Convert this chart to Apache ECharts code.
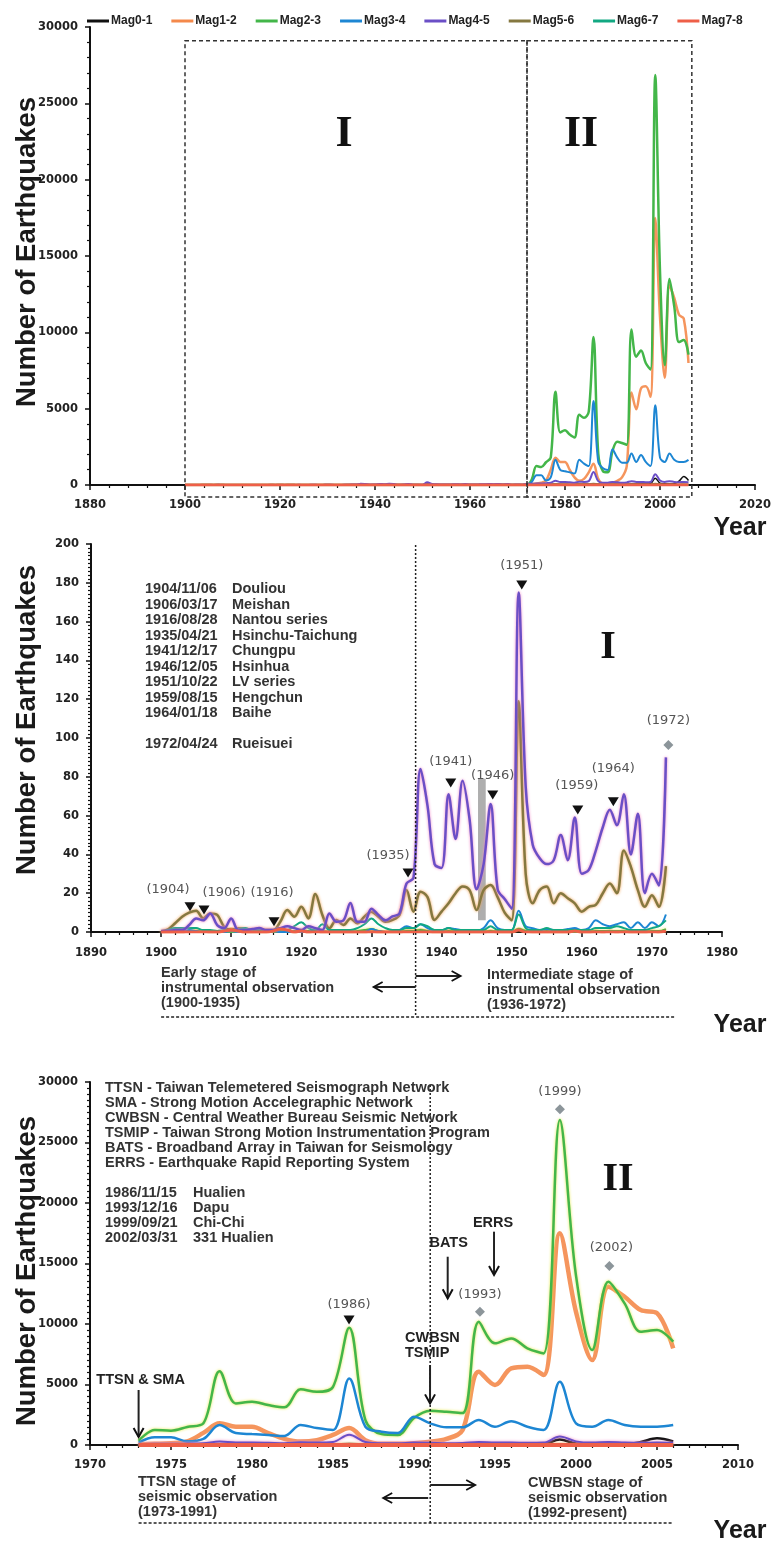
<!DOCTYPE html>
<html><head><meta charset="utf-8">
<script src="https://cdn.jsdelivr.net/npm/echarts@6/dist/echarts.min.js"></script>
<style>html,body{margin:0;padding:0;background:#fff}#c{width:771px;height:1555px}</style>
</head><body><div id="c"></div>
<script>
// ---------------- DATA ----------------
const magNames = ['Mag0-1','Mag1-2','Mag2-3','Mag3-4','Mag4-5','Mag5-6','Mag6-7','Mag7-8'];
const yearsEarly = []; for (let y = 1900; y <= 1972; y++) yearsEarly.push(y);
const yearsLate = []; for (let y = 1973; y <= 2006; y++) yearsLate.push(y);

// 1900-1972 (annual counts)
const mag01Early = [0,0,0,0,0,0,0,0,0,0, 0,0,0,0,0,0,0,0,0,0, 0,0,0,0,0,0,0,0,0,0, 0,0,0,0,0,0,0,0,0,0, 0,0,0,0,0,0,0,0,0,0, 0,0,0,0,0,0,0,0,0,0, 0,0,0,0,0,0,0,0,0,0, 0,0,0];
const mag12Early = [0,0,0,0,0.5,0.5,0.5,0,0,0.5, 1.5,0.5,0,0,0,0,0.5,1.5,0.5,0, 0.5,0,0.5,0,0,0,0,0,0,0, 0.5,0,0,0,0,0.5,0.5,1,0.5,0, 0,0.5,0,0,0,0,0,0.5,0,0, 0,1.5,0.5,0,0,0,0,0,0,0.5, 0,0,0.5,0,0.5,0,0.5,0,0,0, 0.5,0,1];
const mag23Early = [0,0,0,0.5,0.5,0.5,0,0,0,0, 0,0,0.5,0,0,0,0,0.5,0,0.5, 1,0.5,0,0.5,0,0,0,0,0.5,1, 1.5,0.5,0,0,0,0.5,0.5,1,0.5,0, 0,0.5,0,0,0,0,0,0.5,0,0, 0,1.5,0.5,0,0,0.5,0,0,0,0, 0,0,0.5,0.5,0.5,0.5,0.5,0,0,0, 0.5,0.5,1.5];
const mag34Early = [0,0,0,0.5,1,0.5,0,0,0,0, 0.5,0,0,0,0,0,0.5,0,0,0, 0,0,1,0,0,0,0,0,0,0, 1.5,0.5,0,0,1,3,2,4,2,1, 1,2,1.5,1,1,0.5,2,6,2,1, 1,11,3,2,1,1.5,1,1,1.5,2, 1,2,6,4,3,4,5,2,5,2, 5,3,9];
const mag45Early = [0.5,0.5,1,1,3.6,7,6,9.6,3.6,2, 7,1,1,1.5,2,1,1,2,3,2, 1,3,2,1,9.6,5.3,6,15,5.3,5.3, 12,8.8,6,8,9.6,25,28,84,65,35, 33,71,48,78,58,22,35,66,22,17, 12,175,75,45,38,35,37,50,37,59, 30,32,42,54,63,55,71,40,61,20, 30,24,90];
const mag56Early = [0.3,1.4,4.5,7.9,10,11,7,9.6,8.8,2.7, 1,1.9,1.4,1,1.4,1,1,5.3,11.3,7.9, 13,7,19.6,8.8,1.9,6.2,3.6,7,4.5,7.9, 10.5,7.9,5.3,6.2,8.8,21.6,10.5,20.8,18,6.2, 10.5,14.8,20,23.5,21.6,11.3,21.6,24.2,18,10, 6,119,30,14.8,21.6,23.5,14.8,20,17.4,14.8, 10.5,13,14,20,25,20,42,33.6,21.6,13, 19,13,34];
const mag67Early = [0,1,2,2,2,2,1,1,0.5,1, 1,1.5,2,1,1,0.5,1,2,1,3, 5,2,1,4,1,1,1,1,2,4, 7,4,2,1,1,2,2,4,3,1, 1,2,1,1,1,1,1,3,1,1, 1,9,2,1,1,2,1,1,1,1, 1,1,2,2,2,3,2,1,1,1, 2,3,6];
const mag78Early = [0,0,0,0,0,0,0,0,0,0.5, 1,0.5,0,0,0,0,0.5,1.5,1,0, 0.5,0,0,0,0,0,0,0,0,0, 0,0,0,0,0,0,0,0,0,0, 0,0,0,0,0,0,0,0,0,0, 0,1,0,0,0,0,0,0,0,0.5, 0,0,0,0,0,0,0,0,0,0, 0,0,0.5];

// 1973-2006 (annual counts)
const mag01Late = [30,30,40,40,40,50,40,40,40,40, 50,50,50,80,50,40,40,50,50,50, 50,60,60,60,60,80,450,120,80,80, 80,250,550,300];
const mag12Late = [50,100,150,300,1000,1790,1510,1500,990,500, 280,400,830,1400,400,100,100,150,270,500, 1240,6060,4960,6330,6470,5780,17490,11000,7020,13080, 12250,11150,10900,7990];
const mag23Late = [350,1240,1180,1490,1800,6100,3440,3580,3300,3110, 4600,4400,4800,9700,2065,900,830,2230,2830,2750, 2640,10180,8400,8810,7990,7570,26850,14000,7850,13500, 11700,9360,9500,8540];
const mag34Late = [200,640,640,300,500,1650,990,900,830,750, 1650,1400,1240,5500,1510,1100,990,2340,1790,1460, 1460,2065,1510,1961,1510,1240,5230,1790,1510,2065, 1650,1510,1510,1650];
const mag45Late = [80,100,100,120,150,280,200,200,180,150, 220,200,250,850,250,150,150,200,180,150, 170,250,200,200,180,200,700,300,200,250, 200,180,200,180];
const mag56Late = [40,45,40,45,50,60,50,45,40,40, 45,45,50,90,45,40,40,45,40,40, 40,50,45,40,40,40,80,50,40,45, 40,40,45,40];
const mag67Late = [3,2,2,2,3,4,3,2,2,2, 3,2,3,5,3,2,2,2,2,2, 2,4,3,2,2,2,6,3,2,3, 2,2,3,2];
const mag78Late = [0,0,0,0,0,1,0,0,0,0, 0,0,0,1,0,0,0,0,0,0, 0,0,0,0,0,0,1,0,0,0, 0,0,0,0];

// axis ticks
const xTicks1 = {min: 1880, max: 2020, interval: 20};
const xTicks2 = {min: 1890, max: 1980, interval: 10};
const xTicks3 = {min: 1970, max: 2010, interval: 5};
const yTicks1 = {min: 0, max: 30000, interval: 5000};
const yTicks2 = {min: 0, max: 200, interval: 20};
const yTicks3 = {min: 0, max: 30000, interval: 5000};

// annotations (data coordinates)
const events2 = [
  ['(1904)', 1904.12, 13.0, 'tri', -22, -11],
  ['(1906)', 1906.12, 11.3, 'tri', 20, -11],
  ['(1916)', 1916.1, 5.3, 'tri', -2, -23],
  ['(1935)', 1935.22, 30.4, 'tri', -20, -11],
  ['(1941)', 1941.31, 76.8, 'tri', 0, -15],
  ['(1946)', 1947.3, 70.6, 'tri', 0, -13],
  ['(1951)', 1951.44, 178.9, 'tri', 0, -13],
  ['(1959)', 1959.43, 62.9, 'tri', -1, -18],
  ['(1964)', 1964.5, 67.2, 'tri', 0, -27],
  ['(1972)', 1972.35, 96.4, 'dia', 0, -18]
];
const events3 = [
  ['(1986)', 1985.99, 10330, 'tri', 0, -15],
  ['(1993)', 1994.07, 11020, 'dia', 0, -17],
  ['(1999)', 1999.01, 27740, 'dia', 0, -18],
  ['(2002)', 2002.06, 14790, 'dia', 2, -18]
];
const notes2Dates = ['1904/11/06','1906/03/17','1916/08/28','1935/04/21','1941/12/17','1946/12/05','1951/10/22','1959/08/15','1964/01/18','','1972/04/24'];
const notes2Names = ['Douliou','Meishan','Nantou series','Hsinchu-Taichung','Chungpu','Hsinhua','LV series','Hengchun','Baihe','','Rueisuei'];
const notes3Nets = ['TTSN - Taiwan Telemetered Seismograph Network','SMA - Strong Motion Accelegraphic Network','CWBSN - Central Weather Bureau Seismic Network','TSMIP - Taiwan Strong Motion Instrumentation Program','BATS - Broadband Array in Taiwan for Seismology','ERRS - Earthquake Rapid Reporting System'];
const notes3Dates = ['1986/11/15','1993/12/16','1999/09/21','2002/03/31'];
const notes3Names = ['Hualien','Dapu','Chi-Chi','331 Hualien'];

// ---------------- CHART ----------------
const early = [mag01Early, mag12Early, mag23Early, mag34Early, mag45Early, mag56Early, mag67Early, mag78Early];
const late = [mag01Late, mag12Late, mag23Late, mag34Late, mag45Late, mag56Late, mag67Late, mag78Late];
const colors = ['#111111','#F4894B','#43B649','#1D86D3','#6B4FC6','#857840','#12A882','#EE5F48'];
const halos = [null, null, '#e6e84a', null, '#f08ac8', '#f0a050', null, null];
const widths = [[1.5,2.5,2.5,2,2,2,2,3],[2,3,2,2,2.5,2.5,2,3],[2.5,4.5,2.5,2.5,2,2,2,4]];
const zs = [2,2,3,3,4,3,3,5];

function pairs(xs, vs) { return xs.map((x, i) => [x, vs[i]]); }

const series = [];
for (let p = 0; p < 3; p++) {
  for (let k = 0; k < 8; k++) {
    let data;
    if (p === 0) data = pairs(yearsEarly.concat(yearsLate), early[k].concat(late[k]));
    else if (p === 1) data = pairs(yearsEarly, early[k]);
    else data = pairs(yearsLate, late[k]);
    const ls = {color: colors[k], width: widths[p][k]};
    if (k === 1) ls.opacity = 0.9;
    if (halos[k] && p > 0) { ls.shadowColor = halos[k]; ls.shadowBlur = 3; }
    const s = {
      name: magNames[k], type: 'line', xAxisIndex: p, yAxisIndex: p, data,
      symbol: 'none', showSymbol: false, smooth: 0.35, lineStyle: ls,
      itemStyle: {color: colors[k]}, z: zs[k], animation: false
    };
    if (p === 1 && k === 4) {
      s.markArea = {silent: true, itemStyle: {color: 'rgba(140,140,140,0.7)'},
        data: [[{coord: [1945.2, 6]}, {coord: [1946.3, 79]}]]};
    }
    series.push(s);
  }
}

const tickFont = {fontFamily: '"DejaVu Sans", sans-serif', fontWeight: 'bold', fontSize: 11.5, color: '#222'};
function axisCfg(dir, gi, t, minorSplit, margin) {
  return Object.assign({
    type: 'value', gridIndex: gi,
    axisLine: {show: true, onZero: false, lineStyle: {color: '#111', width: 2}},
    axisTick: {show: true, length: 5, lineStyle: {color: '#111', width: 1.5}},
    minorTick: {show: true, splitNumber: minorSplit, length: 3, lineStyle: {color: '#111', width: 1.2}},
    splitLine: {show: false},
    axisLabel: Object.assign({}, tickFont, {margin, formatter: v => String(v)})
  }, t);
}

const option = {
  backgroundColor: '#fff',
  animation: false,
  legend: {
    data: magNames, left: 82, top: 10, icon: 'rect', itemWidth: 22, itemHeight: 3, itemGap: 19,
    selectedMode: false,
    textStyle: {fontFamily: '"Liberation Sans", Arial, sans-serif', fontWeight: 'bold', fontSize: 12, color: '#222', padding: [0,0,0,-3]}
  },
  grid: [
    {left: 90, top: 27, width: 665, height: 458, containLabel: false, outerBoundsMode: 'none'},
    {left: 91, top: 544, width: 631, height: 388, containLabel: false, outerBoundsMode: 'none'},
    {left: 90, top: 1082, width: 648, height: 363, containLabel: false, outerBoundsMode: 'none'}
  ],
  xAxis: [
    axisCfg('x', 0, xTicks1, 5, 14),
    axisCfg('x', 1, xTicks2, 5, 15),
    axisCfg('x', 2, xTicks3, 5, 14)
  ],
  yAxis: [
    axisCfg('y', 0, yTicks1, 5, 12),
    axisCfg('y', 1, yTicks2, 10, 12),
    axisCfg('y', 2, yTicks3, 10, 12)
  ],
  series
};

const chart = echarts.init(document.getElementById('c'), null, {renderer: 'canvas'});
chart.setOption(option);

// ---------------- ANNOTATIONS ----------------
const FB = 'bold 14.5px "Liberation Sans", Arial, sans-serif';
const INK = '#2a2a2a';
function txt(x, y, text, font, fill, align, extra) {
  return Object.assign({type: 'text', x, y, z: 50, silent: true,
    style: {text, font, fill: fill || INK, textAlign: align || 'left', textVerticalAlign: 'middle', align: align || 'left', verticalAlign: 'middle'}}, extra || {});
}
function line(x1, y1, x2, y2, dash, w) {
  return {type: 'line', z: 40, silent: true, shape: {x1, y1, x2, y2},
    style: {stroke: '#222', lineWidth: w || 1.5, lineDash: dash || null}};
}
function arrowDown(x, y1, y2) {
  return [line(x, y1, x, y2, null, 2),
    {type: 'polyline', z: 40, silent: true, shape: {points: [[x - 5, y2 - 9], [x, y2], [x + 5, y2 - 9]]}, style: {stroke: '#111', lineWidth: 2, fill: null}}];
}
function arrowH(x1, x2, y) {
  const d = x2 > x1 ? -1 : 1;
  return [line(x1, y, x2, y, null, 1.8),
    {type: 'polyline', z: 40, silent: true, shape: {points: [[x2 + d * 9, y - 5], [x2, y], [x2 + d * 9, y + 5]]}, style: {stroke: '#111', lineWidth: 1.8, fill: null}}];
}
function marker(p, kind) {
  if (kind === 'tri') {
    return {type: 'polygon', z: 45, silent: true, shape: {points: [[p[0] - 5.5, p[1] - 4.5], [p[0] + 5.5, p[1] - 4.5], [p[0], p[1] + 4.5]]}, style: {fill: '#111'}};
  }
  return {type: 'polygon', z: 45, silent: true, shape: {points: [[p[0], p[1] - 5], [p[0] + 5, p[1]], [p[0], p[1] + 5], [p[0] - 5, p[1]]]}, style: {fill: '#8c959a'}};
}
function P(gi, x, y) { return chart.convertToPixel({gridIndex: gi}, [x, y]); }

const g = [];
const yLabelFont = 'bold 27.5px "Liberation Sans", Arial, sans-serif';
const yearFont = 'bold 25px "Liberation Sans", Arial, sans-serif';
const romanFont1 = 'bold 44px "Liberation Serif", "Times New Roman", serif';
const romanFont2 = 'bold 40px "Liberation Serif", "Times New Roman", serif';
const evFont = '13px "DejaVu Sans", sans-serif';

// y axis titles and Year labels
[252, 720, 1271].forEach(cy => g.push(txt(27, cy, 'Number of Earthquakes', yLabelFont, '#1a1a1a', 'center', {rotation: Math.PI / 2})));
[528, 1025, 1531].forEach(cy => g.push(txt(740, cy, 'Year', yearFont, '#1a1a1a', 'center')));

// Panel 1 dashed boxes
{
  const a = P(0, 1900, 29100), b = P(0, 1972, 0), c = P(0, 2006.7, 0);
  const bot = b[1] + 12;
  g.push({type: 'rect', z: 30, silent: true, shape: {x: a[0], y: a[1], width: b[0] - a[0], height: bot - a[1]}, style: {fill: null, stroke: '#333', lineWidth: 1.5, lineDash: [4, 3]}});
  g.push({type: 'rect', z: 30, silent: true, shape: {x: b[0], y: a[1], width: c[0] - b[0], height: bot - a[1]}, style: {fill: null, stroke: '#333', lineWidth: 1.5, lineDash: [4, 3]}});
  g.push(txt(344, 135, 'I', romanFont1, '#111', 'center'));
  g.push(txt(581, 135, 'II', romanFont1, '#111', 'center'));
}

// Panel 2
{
  const top = P(1, 1936.3, 200), base = P(1, 1936.3, 0);
  const sx = top[0];
  g.push(line(sx, top[1] + 1, sx, base[1] + 83, [2, 2], 1.5));
  const l = P(1, 1900, 0), r = P(1, 1973.3, 0);
  g.push(line(l[0], base[1] + 85, r[0], base[1] + 85, [3, 2], 1.5));
  g.push(...arrowH(sx, sx - 42, base[1] + 55));
  g.push(...arrowH(sx, sx + 45, base[1] + 44));
  ['Early stage of', 'instrumental observation', '(1900-1935)'].forEach((t, i) => g.push(txt(161, 973 + i * 15, t, FB, '#333')));
  ['Intermediate stage of', 'instrumental observation', '(1936-1972)'].forEach((t, i) => g.push(txt(487, 975 + i * 15, t, FB, '#333')));
  notes2Dates.forEach((d, i) => { if (d) { g.push(txt(145, 589.3 + i * 15.47, d, FB, '#333')); g.push(txt(232, 589.3 + i * 15.47, notes2Names[i], FB, '#333')); } });
  g.push(txt(608, 648, 'I', romanFont2, '#111', 'center'));
  events2.forEach(e => {
    const p = P(1, e[1], e[2]);
    g.push(marker(p, e[3]));
    g.push(txt(p[0] + e[4], p[1] + e[5] - 6, e[0], evFont, '#555', 'center'));
  });
}

// Panel 3
{
  const top = P(2, 1991.0, 30000), base = P(2, 1991.0, 0);
  const sx = top[0];
  g.push(line(sx, top[1] + 3, sx, base[1] + 80, [2, 2], 1.5));
  const l = P(2, 1973, 0), r = P(2, 2006, 0);
  g.push(line(l[0], base[1] + 78, r[0], base[1] + 78, [3, 2], 1.5));
  g.push(...arrowH(sx, sx + 45, base[1] + 40));
  g.push(...arrowH(sx - 2, sx - 47, base[1] + 53));
  ['TTSN stage of', 'seismic observation', '(1973-1991)'].forEach((t, i) => g.push(txt(138, 1482 + i * 15, t, FB, '#333')));
  ['CWBSN stage of', 'seismic observation', '(1992-present)'].forEach((t, i) => g.push(txt(528, 1483 + i * 15, t, FB, '#333')));
  notes3Nets.forEach((t, i) => g.push(txt(105, 1088.3 + i * 15, t, FB, '#333')));
  notes3Dates.forEach((d, i) => { g.push(txt(105, 1193.3 + i * 15, d, FB, '#333')); g.push(txt(193, 1193.3 + i * 15, notes3Names[i], FB, '#333')); });
  g.push(txt(618, 1180, 'II', romanFont2, '#111', 'center'));
  // instrument arrows
  const a1 = P(2, 1973, 4545), a1e = P(2, 1973, 660);
  g.push(...arrowDown(a1[0], a1[1], a1e[1]));
  g.push(txt(a1[0] + 2, a1[1] - 10, 'TTSN & SMA', FB, '#222', 'center'));
  const a2 = P(2, 1990.99, 6610), a2e = P(2, 1990.99, 3440);
  g.push(...arrowDown(a2[0], a2[1], a2e[1]));
  g.push(txt(405, a2[1] - 27, 'CWBSN', FB, '#222'));
  g.push(txt(405, a2[1] - 12, 'TSMIP', FB, '#222'));
  const a3 = P(2, 1992.08, 15560), a3e = P(2, 1992.08, 12120);
  g.push(...arrowDown(a3[0], a3[1], a3e[1]));
  g.push(txt(a3[0] + 1, a3[1] - 14, 'BATS', FB, '#222', 'center'));
  const a4 = P(2, 1994.94, 17630), a4e = P(2, 1994.94, 14050);
  g.push(...arrowDown(a4[0], a4[1], a4e[1]));
  g.push(txt(a4[0] - 1, a4[1] - 9, 'ERRS', FB, '#222', 'center'));
  events3.forEach(e => {
    const p = P(2, e[1], e[2]);
    g.push(marker(p, e[3]));
    g.push(txt(p[0] + e[4], p[1] + e[5], e[0], evFont, '#555', 'center'));
  });
}

chart.setOption({graphic: {elements: g}});
</script>
</body></html>
